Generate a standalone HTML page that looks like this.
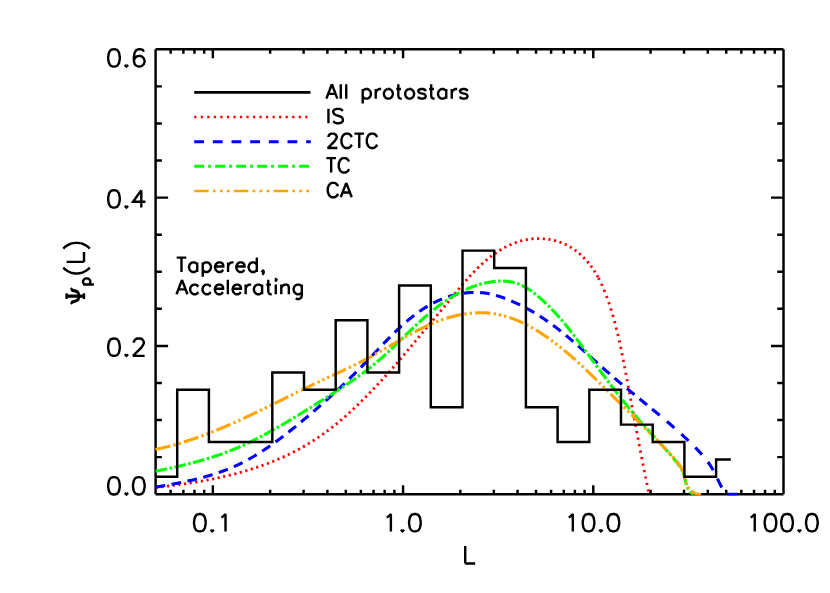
<!DOCTYPE html>
<html><head><meta charset="utf-8"><title>plot</title>
<style>html,body{margin:0;padding:0;background:#fff;font-family:"Liberation Sans",sans-serif}svg{display:block}</style></head>
<body>
<svg width="830" height="593" viewBox="0 0 830 593">
<rect width="830" height="593" fill="#fff"/>
<defs><clipPath id="cp"><rect x="154.4" y="48.1" width="630.3" height="447.3"/></clipPath></defs>
<g fill="none" stroke="#000" stroke-width="2.45" stroke-linecap="butt" stroke-linejoin="miter" stroke-miterlimit="10">
<path d="M155.6 494.2 H783.5 M155.6 49.3 H783.5 M155.6 494.2 V49.3 M783.5 494.2 V49.3"/>
<path d="M170.66 494.2 v-4.45 M170.66 49.3 v4.45 M183.4 494.2 v-4.45 M183.4 49.3 v4.45 M194.43 494.2 v-4.45 M194.43 49.3 v4.45 M204.16 494.2 v-4.45 M204.16 49.3 v4.45 M212.86 494.2 v-8.9 M212.86 49.3 v8.9 M270.12 494.2 v-4.45 M270.12 49.3 v4.45 M303.61 494.2 v-4.45 M303.61 49.3 v4.45 M327.38 494.2 v-4.45 M327.38 49.3 v4.45 M345.81 494.2 v-4.45 M345.81 49.3 v4.45 M360.87 494.2 v-4.45 M360.87 49.3 v4.45 M373.61 494.2 v-4.45 M373.61 49.3 v4.45 M384.64 494.2 v-4.45 M384.64 49.3 v4.45 M394.37 494.2 v-4.45 M394.37 49.3 v4.45 M403.07 494.2 v-8.9 M403.07 49.3 v8.9 M460.33 494.2 v-4.45 M460.33 49.3 v4.45 M493.83 494.2 v-4.45 M493.83 49.3 v4.45 M517.59 494.2 v-4.45 M517.59 49.3 v4.45 M536.03 494.2 v-4.45 M536.03 49.3 v4.45 M551.09 494.2 v-4.45 M551.09 49.3 v4.45 M563.82 494.2 v-4.45 M563.82 49.3 v4.45 M574.85 494.2 v-4.45 M574.85 49.3 v4.45 M584.58 494.2 v-4.45 M584.58 49.3 v4.45 M593.29 494.2 v-8.9 M593.29 49.3 v8.9 M650.55 494.2 v-4.45 M650.55 49.3 v4.45 M684.04 494.2 v-4.45 M684.04 49.3 v4.45 M707.81 494.2 v-4.45 M707.81 49.3 v4.45 M726.24 494.2 v-4.45 M726.24 49.3 v4.45 M741.3 494.2 v-4.45 M741.3 49.3 v4.45 M754.04 494.2 v-4.45 M754.04 49.3 v4.45 M765.07 494.2 v-4.45 M765.07 49.3 v4.45 M774.8 494.2 v-4.45 M774.8 49.3 v4.45 M155.6 457.12 h6.25 M783.5 457.12 h-6.25 M155.6 420.05 h6.25 M783.5 420.05 h-6.25 M155.6 382.97 h6.25 M783.5 382.97 h-6.25 M155.6 345.9 h12.5 M783.5 345.9 h-12.5 M155.6 308.82 h6.25 M783.5 308.82 h-6.25 M155.6 271.75 h6.25 M783.5 271.75 h-6.25 M155.6 234.68 h6.25 M783.5 234.68 h-6.25 M155.6 197.6 h12.5 M783.5 197.6 h-12.5 M155.6 160.53 h6.25 M783.5 160.53 h-6.25 M155.6 123.45 h6.25 M783.5 123.45 h-6.25 M155.6 86.38 h6.25 M783.5 86.38 h-6.25"/>
</g>
<g fill="none" stroke-width="3.1" stroke-linecap="butt" stroke-linejoin="round" clip-path="url(#cp)">
<path d="M155.66 487.51 L156.75 487.39 L157.83 487.27 L158.92 487.15 L160.01 487.03 L161.1 486.91 L162.19 486.78 L163.28 486.66 L164.37 486.53 L165.46 486.4 L166.55 486.27 L167.64 486.14 L168.73 486 L169.82 485.87 L170.91 485.73 L172.01 485.59 L173.1 485.45 L174.19 485.31 L175.29 485.17 L176.38 485.02 L177.47 484.87 L178.57 484.72 L179.66 484.57 L180.75 484.42 L181.85 484.27 L182.94 484.11 L184.04 483.95 L185.13 483.79 L186.23 483.63 L187.32 483.46 L188.41 483.3 L189.51 483.13 L190.6 482.96 L191.7 482.78 L192.79 482.61 L193.88 482.43 L194.98 482.25 L196.07 482.07 L197.16 481.89 L198.26 481.7 L199.35 481.51 L200.44 481.32 L201.53 481.13 L202.62 480.93 L203.72 480.74 L204.81 480.54 L205.9 480.33 L206.99 480.13 L208.08 479.92 L209.17 479.71 L210.26 479.5 L211.34 479.28 L212.43 479.06 L213.52 478.84 L214.61 478.62 L215.69 478.39 L216.78 478.16 L217.86 477.93 L218.95 477.7 L220.03 477.46 L221.12 477.22 L222.2 476.98 L223.28 476.73 L224.36 476.48 L225.44 476.23 L226.52 475.98 L227.6 475.72 L228.68 475.46 L229.75 475.19 L230.83 474.93 L231.91 474.66 L232.98 474.39 L234.05 474.11 L235.13 473.83 L236.2 473.55 L237.27 473.26 L238.34 472.97 L239.41 472.68 L240.47 472.39 L241.54 472.09 L242.6 471.78 L243.67 471.48 L244.73 471.17 L245.79 470.86 L246.85 470.54 L247.91 470.22 L248.97 469.9 L250.03 469.57 L251.08 469.24 L252.14 468.91 L253.19 468.57 L254.24 468.23 L255.29 467.89 L256.34 467.54 L257.39 467.19 L258.43 466.83 L259.48 466.47 L260.52 466.11 L261.56 465.74 L262.6 465.37 L263.64 464.99 L264.68 464.61 L265.71 464.23 L266.75 463.85 L267.78 463.45 L268.81 463.06 L269.84 462.66 L270.87 462.26 L271.89 461.85 L272.92 461.44 L273.94 461.03 L274.96 460.61 L275.98 460.18 L276.99 459.75 L278.01 459.32 L279.02 458.89 L280.03 458.45 L281.04 458 L282.05 457.55 L283.06 457.1 L284.06 456.64 L285.06 456.18 L286.06 455.71 L287.06 455.24 L288.05 454.76 L289.05 454.28 L290.04 453.8 L291.03 453.31 L292.01 452.81 L293 452.31 L293.98 451.81 L294.96 451.3 L295.94 450.79 L296.92 450.27 L297.89 449.75 L298.86 449.22 L299.83 448.69 L300.8 448.15 L301.76 447.61 L302.72 447.06 L303.68 446.51 L304.64 445.96 L305.6 445.39 L306.55 444.83 L307.5 444.26 L308.45 443.68 L309.39 443.1 L310.34 442.52 L311.28 441.93 L312.21 441.34 L313.15 440.74 L314.08 440.14 L315.01 439.54 L315.94 438.93 L316.86 438.31 L317.79 437.7 L318.71 437.07 L319.62 436.45 L320.54 435.82 L321.45 435.18 L322.36 434.55 L323.26 433.9 L324.17 433.26 L325.07 432.61 L325.97 431.95 L326.86 431.3 L327.75 430.64 L328.64 429.97 L329.53 429.3 L330.41 428.63 L331.3 427.96 L332.17 427.28 L333.05 426.6 L333.92 425.91 L334.79 425.22 L335.66 424.53 L336.52 423.83 L337.38 423.14 L338.24 422.43 L339.09 421.73 L339.94 421.02 L340.79 420.31 L341.64 419.59 L342.48 418.88 L343.32 418.16 L344.15 417.43 L344.99 416.71 L345.82 415.98 L346.64 415.25 L347.47 414.51 L348.29 413.78 L349.1 413.04 L349.92 412.29 L350.73 411.55 L351.54 410.8 L352.34 410.05 L353.14 409.3 L353.94 408.54 L354.74 407.79 L355.53 407.03 L356.32 406.27 L357.11 405.5 L357.9 404.74 L358.69 403.97 L359.48 403.2 L360.26 402.42 L361.04 401.65 L361.82 400.87 L362.6 400.09 L363.39 399.31 L364.16 398.53 L364.94 397.75 L365.72 396.96 L366.5 396.17 L367.27 395.38 L368.05 394.59 L368.82 393.8 L369.59 393 L370.37 392.21 L371.14 391.41 L371.91 390.61 L372.67 389.81 L373.44 389.01 L374.21 388.2 L374.97 387.4 L375.73 386.59 L376.5 385.79 L377.26 384.98 L378.01 384.17 L378.77 383.36 L379.53 382.55 L380.28 381.73 L381.04 380.92 L381.79 380.11 L382.54 379.29 L383.29 378.47 L384.03 377.66 L384.78 376.84 L385.52 376.02 L386.26 375.2 L387 374.38 L387.74 373.56 L388.48 372.74 L389.21 371.92 L389.95 371.1 L390.68 370.27 L391.4 369.45 L392.13 368.63 L392.86 367.8 L393.58 366.98 L394.3 366.15 L395.02 365.33 L395.74 364.5 L396.45 363.68 L397.17 362.85 L397.88 362.03 L398.59 361.2 L399.3 360.37 L400.01 359.55 L400.72 358.72 L401.42 357.89 L402.13 357.06 L402.83 356.23 L403.54 355.4 L404.24 354.57 L404.94 353.74 L405.64 352.91 L406.34 352.08 L407.04 351.25 L407.74 350.42 L408.43 349.58 L409.13 348.75 L409.83 347.91 L410.53 347.08 L411.22 346.24 L411.92 345.41 L412.62 344.57 L413.31 343.73 L414.01 342.9 L414.71 342.06 L415.4 341.22 L416.1 340.38 L416.8 339.54 L417.5 338.7 L418.19 337.86 L418.89 337.01 L419.59 336.17 L420.29 335.33 L420.99 334.48 L421.69 333.64 L422.4 332.79 L423.1 331.94 L423.8 331.1 L424.51 330.25 L425.22 329.4 L425.92 328.55 L426.63 327.7 L427.34 326.85 L428.06 326 L428.77 325.14 L429.48 324.29 L430.2 323.43 L430.92 322.58 L431.64 321.72 L432.36 320.86 L433.08 320.01 L433.81 319.15 L434.53 318.29 L435.26 317.43 L435.99 316.56 L436.71 315.7 L437.44 314.84 L438.17 313.97 L438.9 313.11 L439.63 312.24 L440.35 311.37 L441.08 310.5 L441.81 309.63 L442.53 308.76 L443.26 307.89 L443.98 307.02 L444.71 306.15 L445.43 305.27 L446.15 304.4 L446.87 303.52 L447.59 302.64 L448.31 301.76 L449.02 300.89 L449.74 300.01 L450.46 299.13 L451.17 298.25 L451.89 297.38 L452.6 296.5 L453.32 295.62 L454.03 294.75 L454.75 293.87 L455.47 293 L456.18 292.13 L456.9 291.26 L457.62 290.39 L458.34 289.52 L459.06 288.65 L459.78 287.79 L460.5 286.93 L461.23 286.07 L461.95 285.21 L462.68 284.35 L463.41 283.5 L464.14 282.65 L464.87 281.81 L465.6 280.96 L466.34 280.12 L467.08 279.28 L467.82 278.45 L468.56 277.62 L469.31 276.8 L470.06 275.97 L470.81 275.16 L471.57 274.34 L472.33 273.53 L473.09 272.73 L473.86 271.93 L474.62 271.13 L475.4 270.34 L476.17 269.56 L476.95 268.78 L477.74 268.01 L478.53 267.24 L479.32 266.47 L480.11 265.72 L480.92 264.97 L481.72 264.22 L482.53 263.48 L483.35 262.75 L484.17 262.03 L484.99 261.31 L485.83 260.6 L486.66 259.89 L487.5 259.19 L488.35 258.5 L489.2 257.82 L490.06 257.15 L490.93 256.48 L491.8 255.82 L492.67 255.17 L493.56 254.53 L494.45 253.89 L495.34 253.27 L496.25 252.65 L497.16 252.04 L498.07 251.44 L498.99 250.85 L499.92 250.27 L500.85 249.71 L501.8 249.15 L502.74 248.6 L503.69 248.07 L504.65 247.54 L505.62 247.03 L506.59 246.53 L507.57 246.04 L508.55 245.56 L509.54 245.1 L510.53 244.65 L511.53 244.22 L512.54 243.8 L513.55 243.39 L514.56 243 L515.59 242.62 L516.61 242.25 L517.65 241.91 L518.69 241.58 L519.73 241.26 L520.78 240.96 L521.83 240.68 L522.89 240.41 L523.96 240.16 L525.03 239.93 L526.1 239.71 L527.18 239.52 L528.27 239.34 L529.36 239.18 L530.45 239.04 L531.55 238.92 L532.65 238.82 L533.76 238.73 L534.87 238.67 L535.98 238.62 L537.09 238.59 L538.2 238.58 L539.32 238.59 L540.43 238.61 L541.55 238.66 L542.66 238.72 L543.77 238.81 L544.88 238.91 L545.99 239.03 L547.1 239.16 L548.2 239.32 L549.3 239.49 L550.4 239.69 L551.49 239.9 L552.58 240.13 L553.66 240.37 L554.73 240.64 L555.8 240.92 L556.87 241.23 L557.92 241.55 L558.97 241.89 L560.01 242.24 L561.04 242.62 L562.06 243.01 L563.07 243.42 L564.08 243.85 L565.07 244.3 L566.05 244.77 L567.03 245.25 L567.99 245.75 L568.94 246.27 L569.88 246.8 L570.81 247.35 L571.73 247.92 L572.64 248.5 L573.54 249.1 L574.43 249.71 L575.31 250.34 L576.18 250.98 L577.04 251.64 L577.89 252.31 L578.73 253 L579.56 253.7 L580.37 254.41 L581.18 255.14 L581.98 255.88 L582.76 256.63 L583.54 257.4 L584.3 258.18 L585.05 258.97 L585.8 259.77 L586.53 260.58 L587.25 261.41 L587.96 262.24 L588.66 263.09 L589.35 263.94 L590.03 264.81 L590.7 265.69 L591.35 266.57 L592 267.47 L592.64 268.38 L593.26 269.29 L593.87 270.21 L594.48 271.15 L595.07 272.09 L595.65 273.03 L596.22 273.99 L596.78 274.95 L597.34 275.92 L597.88 276.9 L598.41 277.88" stroke="#ff0000" stroke-width="2.8" stroke-dasharray="2.2 3.5"/>
<path d="M598.41 277.88 L598.93 278.87 L599.45 279.87 L599.95 280.87 L600.45 281.88 L600.94 282.89 L601.42 283.91 L601.89 284.93 L602.36 285.96 L602.81 286.99 L603.26 288.03 L603.7 289.07 L604.14 290.11 L604.57 291.16 L604.99 292.21 L605.4 293.26 L605.81 294.31 L606.21 295.37 L606.61 296.43 L607 297.49 L607.38 298.55 L607.76 299.62 L608.13 300.68 L608.5 301.75 L608.86 302.81 L609.22 303.88 L609.58 304.95 L609.93 306.01 L610.27 307.08 L610.62 308.15 L610.95 309.21 L611.29 310.28 L611.61 311.35 L611.94 312.41 L612.26 313.48 L612.58 314.55 L612.89 315.62 L613.2 316.69 L613.5 317.76 L613.8 318.82 L614.1 319.89 L614.4 320.96 L614.69 322.03 L614.98 323.1 L615.26 324.17 L615.54 325.24 L615.82 326.31 L616.09 327.38 L616.36 328.45 L616.63 329.52 L616.9 330.6 L617.16 331.67 L617.42 332.74 L617.68 333.81 L617.93 334.88 L618.18 335.96 L618.43 337.03 L618.68 338.1 L618.92 339.17 L619.17 340.25 L619.41 341.32 L619.64 342.39 L619.88 343.47 L620.11 344.54 L620.35 345.62 L620.58 346.69 L620.8 347.77 L621.03 348.84 L621.25 349.92 L621.48 350.99 L621.7 352.07 L621.92 353.14 L622.14 354.22 L622.35 355.3 L622.57 356.38 L622.78 357.45 L622.99 358.53 L623.21 359.61 L623.42 360.69 L623.63 361.76 L623.84 362.84 L624.05 363.92 L624.25 365 L624.46 366.08 L624.67 367.16 L624.87 368.24 L625.08 369.32 L625.28 370.4 L625.49 371.48 L625.69 372.56 L625.89 373.65 L626.1 374.73 L626.3 375.81 L626.5 376.89 L626.71 377.98 L626.91 379.06 L627.11 380.14 L627.32 381.23 L627.52 382.31 L627.72 383.39 L627.92 384.48 L628.13 385.56 L628.33 386.65 L628.53 387.73 L628.73 388.82 L628.94 389.9 L629.14 390.99 L629.34 392.07 L629.54 393.16 L629.74 394.25 L629.95 395.33 L630.15 396.42 L630.35 397.51 L630.55 398.59 L630.76 399.68 L630.96 400.77 L631.16 401.86 L631.36 402.94 L631.56 404.03 L631.77 405.12 L631.97 406.21 L632.17 407.29 L632.37 408.38 L632.58 409.47 L632.78 410.56 L632.98 411.65 L633.18 412.74 L633.39 413.83 L633.59 414.91 L633.79 416 L634 417.09 L634.2 418.18 L634.4 419.27 L634.61 420.36 L634.81 421.45 L635.01 422.54 L635.22 423.63 L635.42 424.71 L635.63 425.8 L635.83 426.89 L636.04 427.98 L636.24 429.07 L636.45 430.16 L636.65 431.25 L636.86 432.34 L637.06 433.43 L637.27 434.51 L637.47 435.6 L637.68 436.69 L637.89 437.78 L638.09 438.87 L638.3 439.96 L638.51 441.05 L638.72 442.14 L638.92 443.22 L639.13 444.31 L639.34 445.4 L639.55 446.49 L639.76 447.58 L639.97 448.66 L640.18 449.75 L640.39 450.84 L640.6 451.93 L640.81 453.01 L641.02 454.1 L641.23 455.19 L641.44 456.27 L641.65 457.36 L641.87 458.45 L642.08 459.53 L642.29 460.62 L642.51 461.7 L642.72 462.79 L642.93 463.88 L643.15 464.96 L643.36 466.05 L643.58 467.13 L643.79 468.21 L644.01 469.3 L644.23 470.38 L644.44 471.47 L644.66 472.55 L644.88 473.63 L645.1 474.72 L645.32 475.8 L645.54 476.88 L645.76 477.96 L645.98 479.04 L646.2 480.13 L646.42 481.21 L646.64 482.29 L646.86 483.37 L647.09 484.45 L647.31 485.53 L647.54 486.61 L647.76 487.69 L647.99 488.77 L648.21 489.84 L648.44 490.92 L648.66 492 L648.89 493.08 L649.12 494.15" stroke="#ff0000" stroke-width="2.8" stroke-dasharray="2.2 4.4"/>
<path d="M155.62 487.14 L156.62 486.97 L157.61 486.8 L158.61 486.63 L159.61 486.46 L160.61 486.29 L161.6 486.11 L162.61 485.94 L163.61 485.76 L164.61 485.59 L165.61 485.41 L166.61 485.23 L167.62 485.05 L168.62 484.87 L169.63 484.69 L170.63 484.5 L171.64 484.32 L172.64 484.13 L173.65 483.94 L174.66 483.75 L175.66 483.55 L176.67 483.36 L177.68 483.16 L178.68 482.96 L179.69 482.76 L180.7 482.56 L181.7 482.36 L182.71 482.15 L183.72 481.94 L184.72 481.73 L185.73 481.51 L186.74 481.29 L187.74 481.08 L188.75 480.85 L189.75 480.63 L190.75 480.4 L191.76 480.17 L192.76 479.94 L193.76 479.7 L194.76 479.46 L195.76 479.22 L196.76 478.97 L197.76 478.73 L198.76 478.47 L199.76 478.22 L200.75 477.96 L201.75 477.7 L202.74 477.44 L203.74 477.17 L204.73 476.89 L205.72 476.62 L206.71 476.34 L207.7 476.06 L208.68 475.77 L209.67 475.48 L210.65 475.18 L211.63 474.88 L212.61 474.58 L213.59 474.27 L214.57 473.96 L215.54 473.65 L216.52 473.33 L217.49 473 L218.46 472.67 L219.43 472.34 L220.4 472 L221.36 471.66 L222.32 471.31 L223.28 470.96 L224.24 470.6 L225.2 470.24 L226.15 469.88 L227.1 469.5 L228.05 469.13 L229 468.75 L229.94 468.36 L230.88 467.97 L231.82 467.57 L232.76 467.17 L233.69 466.76 L234.62 466.34 L235.55 465.92 L236.48 465.5 L237.4 465.07 L238.32 464.64 L239.24 464.19 L240.16 463.75 L241.07 463.3 L241.98 462.84 L242.89 462.38 L243.8 461.92 L244.7 461.45 L245.6 460.97 L246.5 460.49 L247.4 460.01 L248.29 459.52 L249.18 459.02 L250.07 458.52 L250.96 458.02 L251.84 457.51 L252.72 457 L253.6 456.49 L254.48 455.97 L255.36 455.44 L256.23 454.92 L257.1 454.38 L257.97 453.85 L258.84 453.31 L259.71 452.77 L260.57 452.22 L261.43 451.67 L262.29 451.11 L263.15 450.56 L264 449.99 L264.86 449.43 L265.71 448.86 L266.56 448.29 L267.41 447.72 L268.25 447.14 L269.1 446.56 L269.94 445.97 L270.78 445.39 L271.62 444.8 L272.45 444.2 L273.29 443.61 L274.12 443.01 L274.96 442.41 L275.79 441.8 L276.61 441.2 L277.44 440.59 L278.27 439.98 L279.09 439.37 L279.91 438.75 L280.74 438.13 L281.55 437.51 L282.37 436.89 L283.19 436.27 L284 435.64 L284.82 435.01 L285.63 434.38 L286.44 433.75 L287.25 433.12 L288.06 432.48 L288.87 431.85 L289.67 431.21 L290.48 430.57 L291.28 429.93 L292.08 429.28 L292.89 428.64 L293.69 428 L294.48 427.35 L295.28 426.7 L296.08 426.05 L296.87 425.41 L297.67 424.75 L298.46 424.1 L299.26 423.45 L300.05 422.8 L300.84 422.15 L301.63 421.49 L302.42 420.84 L303.2 420.18 L303.99 419.53 L304.78 418.87 L305.56 418.21 L306.35 417.55 L307.13 416.9 L307.91 416.24 L308.69 415.58 L309.47 414.91 L310.25 414.25 L311.03 413.59 L311.81 412.93 L312.58 412.26 L313.36 411.6 L314.14 410.93 L314.91 410.26 L315.68 409.6 L316.45 408.93 L317.22 408.26 L318 407.59 L318.76 406.92 L319.53 406.25 L320.3 405.58 L321.07 404.9 L321.83 404.23 L322.6 403.55 L323.36 402.88 L324.12 402.2 L324.88 401.52 L325.65 400.84 L326.41 400.17 L327.17 399.48 L327.92 398.8 L328.68 398.12 L329.44 397.44 L330.19 396.75 L330.95 396.07 L331.7 395.38 L332.45 394.7 L333.21 394.01 L333.96 393.32 L334.71 392.63 L335.46 391.94 L336.21 391.25 L336.95 390.55 L337.7 389.86 L338.45 389.16 L339.19 388.47 L339.93 387.77 L340.68 387.07 L341.42 386.37 L342.16 385.67 L342.9 384.97 L343.64 384.27 L344.38 383.57 L345.12 382.86 L345.86 382.16 L346.59 381.45 L347.33 380.74 L348.06 380.04 L348.8 379.33 L349.53 378.61 L350.26 377.9 L350.99 377.19 L351.72 376.47 L352.45 375.76 L353.18 375.04 L353.91 374.32 L354.63 373.61 L355.36 372.89 L356.08 372.16 L356.81 371.44 L357.53 370.72 L358.25 369.99 L358.98 369.27 L359.7 368.54 L360.42 367.81 L361.14 367.08 L361.85 366.35 L362.57 365.62 L363.29 364.88 L364 364.15 L364.72 363.41 L365.43 362.68 L366.15 361.94 L366.86 361.2 L367.57 360.46 L368.28 359.71 L368.99 358.97 L369.7 358.23 L370.41 357.48 L371.12 356.73 L371.83 355.99 L372.54 355.24 L373.24 354.49 L373.95 353.74 L374.66 353 L375.37 352.25 L376.08 351.5 L376.78 350.75 L377.49 350 L378.2 349.25 L378.91 348.5 L379.62 347.76 L380.33 347.01 L381.04 346.26 L381.75 345.51 L382.46 344.77 L383.18 344.02 L383.89 343.28 L384.6 342.54 L385.32 341.8 L386.04 341.06 L386.75 340.32 L387.47 339.58 L388.19 338.84 L388.92 338.11 L389.64 337.38 L390.37 336.65 L391.09 335.92 L391.82 335.19 L392.55 334.47 L393.28 333.74 L394.02 333.02 L394.75 332.31 L395.49 331.59 L396.23 330.88 L396.97 330.17 L397.72 329.46 L398.47 328.76 L399.22 328.06 L399.97 327.36 L400.72 326.66 L401.48 325.97 L402.24 325.28 L403 324.6 L403.77 323.92 L404.54 323.24 L405.31 322.57 L406.08 321.9 L406.86 321.23 L407.64 320.57 L408.42 319.92 L409.2 319.27 L409.99 318.62 L410.78 317.98 L411.58 317.34 L412.38 316.71 L413.18 316.08 L413.98 315.46 L414.79 314.85 L415.6 314.23 L416.42 313.63 L417.24 313.03 L418.06 312.44 L418.88 311.85 L419.71 311.27 L420.55 310.7 L421.38 310.13 L422.22 309.57 L423.07 309.01 L423.91 308.47 L424.77 307.93 L425.62 307.39 L426.48 306.87 L427.35 306.35 L428.22 305.84 L429.09 305.33 L429.96 304.83 L430.84 304.35 L431.73 303.86 L432.62 303.39 L433.51 302.93 L434.41 302.47 L435.31 302.02 L436.22 301.58 L437.13 301.15 L438.05 300.73 L438.97 300.32 L439.9 299.91 L440.83 299.52 L441.76 299.13 L442.7 298.75 L443.65 298.39 L444.6 298.03 L445.55 297.68 L446.51 297.34 L447.48 297.02 L448.45 296.7 L449.42 296.39 L450.4 296.09 L451.38 295.81 L452.37 295.53 L453.36 295.27 L454.35 295.01 L455.34 294.77 L456.34 294.54 L457.34 294.32 L458.35 294.11 L459.35 293.91 L460.36 293.72 L461.37 293.54 L462.39 293.38 L463.4 293.23 L464.42 293.09 L465.44 292.96 L466.46 292.85 L467.48 292.75 L468.5 292.66 L469.52 292.58 L470.55 292.52 L471.57 292.46 L472.6 292.43 L473.62 292.4 L474.64 292.39 L475.67 292.39 L476.69 292.41 L477.71 292.44 L478.74 292.48 L479.76 292.53 L480.78 292.61 L481.8 292.69 L482.81 292.79 L483.83 292.9 L484.84 293.03 L485.86 293.17 L486.87 293.33 L487.87 293.5 L488.88 293.69 L489.88 293.88 L490.88 294.09 L491.88 294.32 L492.88 294.56 L493.88 294.8 L494.87 295.06 L495.86 295.34 L496.85 295.62 L497.84 295.91 L498.82 296.22 L499.8 296.53 L500.78 296.85 L501.76 297.19 L502.73 297.53 L503.7 297.88 L504.67 298.24 L505.64 298.61 L506.61 298.99 L507.57 299.37 L508.53 299.76 L509.48 300.16 L510.44 300.56 L511.39 300.97 L512.34 301.39 L513.29 301.81 L514.23 302.24 L515.17 302.67 L516.11 303.11 L517.05 303.55 L517.98 304 L518.91 304.45 L519.84 304.9 L520.77 305.36 L521.69 305.82 L522.61 306.28 L523.52 306.75 L524.44 307.23 L525.35 307.71 L526.26 308.19 L527.16 308.67 L528.06 309.16 L528.96 309.66 L529.86 310.16 L530.75 310.66 L531.64 311.17 L532.53 311.68 L533.41 312.2 L534.29 312.72 L535.17 313.24 L536.04 313.77 L536.91 314.3 L537.78 314.84 L538.64 315.38 L539.51 315.93 L540.36 316.48 L541.22 317.03 L542.07 317.59 L542.92 318.15 L543.77 318.72 L544.61 319.28 L545.45 319.86 L546.29 320.43 L547.13 321.01 L547.96 321.6 L548.79 322.19 L549.62 322.78 L550.45 323.37 L551.27 323.97 L552.09 324.57 L552.91 325.17 L553.73 325.78 L554.54 326.39 L555.35 327 L556.16 327.62 L556.97 328.24 L557.78 328.86 L558.58 329.49 L559.38 330.11 L560.18 330.74 L560.98 331.38 L561.78 332.01 L562.57 332.65 L563.36 333.29 L564.15 333.93 L564.94 334.57 L565.73 335.22 L566.52 335.87 L567.3 336.52 L568.09 337.17 L568.87 337.83 L569.65 338.49 L570.43 339.15 L571.21 339.81 L571.98 340.47 L572.76 341.13 L573.53 341.8 L574.31 342.47 L575.08 343.13 L575.85 343.8 L576.62 344.48 L577.39 345.15 L578.16 345.82 L578.93 346.5 L579.69 347.17 L580.46 347.85 L581.22 348.53 L581.99 349.21 L582.75 349.89 L583.52 350.57 L584.28 351.25 L585.04 351.94 L585.81 352.62 L586.57 353.3 L587.33 353.99 L588.09 354.67 L588.85 355.36 L589.62 356.04 L590.38 356.73 L591.14 357.42 L591.9 358.1 L592.66 358.79 L593.42 359.47 L594.18 360.16 L594.95 360.85 L595.71 361.53 L596.47 362.22 L597.23 362.91 L597.99 363.59 L598.76 364.28 L599.52 364.96 L600.28 365.64 L601.05 366.33 L601.81 367.01 L602.58 367.69 L603.35 368.38 L604.11 369.06 L604.88 369.74 L605.65 370.41 L606.42 371.09 L607.19 371.77 L607.96 372.45 L608.73 373.12 L609.5 373.79 L610.28 374.47 L611.05 375.14 L611.83 375.81 L612.61 376.47 L613.39 377.14 L614.17 377.81 L614.95 378.47 L615.73 379.14 L616.51 379.8 L617.29 380.46 L618.08 381.12 L618.86 381.78 L619.65 382.44 L620.43 383.1 L621.22 383.75 L622.01 384.41 L622.79 385.07 L623.58 385.72 L624.37 386.37 L625.16 387.03 L625.95 387.68 L626.74 388.33 L627.53 388.98 L628.32 389.63 L629.11 390.28 L629.91 390.93 L630.7 391.58 L631.49 392.23 L632.29 392.88 L633.08 393.53 L633.87 394.17 L634.67 394.82 L635.46 395.47 L636.25 396.12 L637.05 396.76 L637.84 397.41 L638.64 398.05 L639.43 398.7 L640.22 399.35 L641.02 399.99 L641.81 400.64 L642.61 401.28 L643.4 401.93 L644.19 402.57 L644.99 403.22 L645.78 403.86 L646.57 404.51 L647.36 405.16 L648.16 405.8 L648.95 406.45 L649.74 407.1 L650.53 407.74 L651.32 408.39 L652.11 409.04" stroke="#0000ff" stroke-dasharray="9.7 6.506"/>
<path d="M652.11 409.04 L652.9 409.69 L653.69 410.34 L654.48 410.99 L655.27 411.64 L656.05 412.29 L656.84 412.94 L657.63 413.59 L658.41 414.24 L659.19 414.89 L659.98 415.55 L660.76 416.2 L661.54 416.86 L662.32 417.51 L663.1 418.17 L663.88 418.83 L664.66 419.48 L665.44 420.14 L666.22 420.8 L666.99 421.46 L667.76 422.13 L668.54 422.79 L669.31 423.45 L670.08 424.12 L670.85 424.79 L671.62 425.45 L672.39 426.12 L673.15 426.79 L673.92 427.47 L674.68 428.14 L675.44 428.81 L676.21 429.49 L676.97 430.17 L677.73 430.85 L678.49 431.53 L679.24 432.22 L680 432.9 L680.76 433.59 L681.51 434.28 L682.26 434.97 L683.02 435.67 L683.77 436.36 L684.52 437.06 L685.27 437.76 L686.02 438.47 L686.77 439.17 L687.51 439.88 L688.26 440.6 L689 441.31 L689.75 442.03 L690.49 442.75 L691.23 443.47 L691.98 444.2 L692.72 444.93 L693.46 445.66 L694.19 446.4 L694.93 447.14 L695.66 447.88 L696.39 448.63 L697.12 449.38 L697.84 450.13 L698.56 450.89 L699.27 451.65 L699.98 452.41 L700.68 453.18 L701.37 453.95 L702.06 454.73 L702.74 455.51 L703.41 456.3 L704.08 457.08 L704.73 457.88 L705.38 458.67 L706.01 459.48 L706.64 460.28 L707.26 461.09 L707.86 461.91 L708.46 462.73 L709.04 463.55 L709.61 464.38 L710.17 465.22 L710.71 466.05 L711.24 466.9 L711.75 467.75 L712.26 468.6 L712.75 469.46 L713.22 470.32 L713.69 471.19 L714.15 472.06 L714.6 472.94 L715.04 473.82 L715.48 474.7 L715.92 475.58 L716.35 476.47 L716.77 477.36 L717.2 478.25 L717.63 479.14 L718.06 480.04 L718.49 480.94 L718.92 481.83 L719.36 482.73 L719.8 483.63 L720.25 484.53 L720.71 485.43 L721.18 486.33 L721.65 487.23 L722.14 488.13 L722.65 489.03 L723.17 489.93 L723.72 490.82 L724.32 491.72 L724.97 492.61 L725.69 493.5 L726.48 494.2 L727.36 494.2 L737.5 494.2" stroke="#0000ff" stroke-dasharray="9.8 9.469"/>
<path d="M155.58 471.27 L156.57 471.06 L157.55 470.86 L158.54 470.65 L159.52 470.45 L160.51 470.24 L161.49 470.03 L162.47 469.82 L163.45 469.62 L164.43 469.41 L165.41 469.2 L166.39 468.98 L167.37 468.77 L168.35 468.56 L169.33 468.34 L170.31 468.13 L171.28 467.91 L172.26 467.7 L173.23 467.48 L174.21 467.26 L175.18 467.04 L176.15 466.81 L177.12 466.59 L178.09 466.37 L179.06 466.14 L180.03 465.91 L181 465.68 L181.97 465.45 L182.94 465.22 L183.9 464.98 L184.87 464.75 L185.84 464.51 L186.8 464.27 L187.76 464.03 L188.73 463.79 L189.69 463.55 L190.65 463.3 L191.61 463.05 L192.57 462.8 L193.53 462.55 L194.49 462.3 L195.44 462.04 L196.4 461.78 L197.36 461.52 L198.31 461.26 L199.26 460.99 L200.22 460.73 L201.17 460.46 L202.12 460.18 L203.07 459.91 L204.02 459.63 L204.97 459.36 L205.92 459.07 L206.87 458.79 L207.81 458.5 L208.76 458.21 L209.7 457.92 L210.65 457.63 L211.59 457.33 L212.53 457.03 L213.48 456.73 L214.42 456.42 L215.36 456.11 L216.29 455.8 L217.23 455.48 L218.17 455.17 L219.11 454.85 L220.04 454.52 L220.98 454.2 L221.91 453.86 L222.84 453.53 L223.77 453.19 L224.71 452.85 L225.63 452.51 L226.56 452.16 L227.49 451.81 L228.42 451.46 L229.35 451.1 L230.27 450.74 L231.2 450.38 L232.12 450.01 L233.04 449.64 L233.96 449.26 L234.88 448.88 L235.8 448.5 L236.72 448.12 L237.64 447.73 L238.56 447.33 L239.47 446.93 L240.39 446.53 L241.3 446.13 L242.22 445.72 L243.13 445.31 L244.04 444.9 L244.95 444.48 L245.86 444.06 L246.77 443.64 L247.67 443.21 L248.58 442.78 L249.48 442.35 L250.39 441.92 L251.29 441.48 L252.19 441.04 L253.09 440.6 L253.99 440.15 L254.89 439.7 L255.79 439.25 L256.69 438.8 L257.58 438.34 L258.48 437.88 L259.37 437.42 L260.27 436.96 L261.16 436.49 L262.05 436.03 L262.94 435.56 L263.83 435.08 L264.71 434.61 L265.6 434.13 L266.49 433.66 L267.37 433.18 L268.25 432.69 L269.14 432.21 L270.02 431.73 L270.9 431.24 L271.78 430.75 L272.65 430.26 L273.53 429.77 L274.41 429.27 L275.28 428.78 L276.15 428.28 L277.03 427.78 L277.9 427.29 L278.77 426.78 L279.64 426.28 L280.5 425.78 L281.37 425.28 L282.24 424.77 L283.1 424.27 L283.96 423.76 L284.83 423.25 L285.69 422.74 L286.55 422.23 L287.41 421.72 L288.26 421.21 L289.12 420.7 L289.97 420.19 L290.83 419.68 L291.68 419.16 L292.53 418.65 L293.38 418.13 L294.23 417.62 L295.08 417.1 L295.93 416.59 L296.77 416.07 L297.62 415.56 L298.46 415.04 L299.3 414.53 L300.15 414.01 L300.99 413.5 L301.82 412.98 L302.66 412.47 L303.5 411.95 L304.33 411.43 L305.17 410.92 L306 410.4 L306.83 409.89 L307.67 409.37 L308.5 408.85 L309.33 408.34 L310.16 407.82 L310.99 407.3 L311.82 406.78 L312.65 406.26 L313.47 405.75 L314.3 405.23 L315.13 404.71 L315.96 404.19 L316.78 403.67 L317.61 403.15 L318.44 402.62 L319.27 402.1 L320.09 401.58 L320.92 401.06 L321.75 400.53 L322.58 400.01 L323.4 399.48 L324.23 398.96 L325.06 398.43 L325.89 397.9 L326.72 397.37 L327.55 396.84 L328.38 396.31 L329.21 395.78 L330.04 395.25 L330.87 394.71 L331.71 394.18 L332.54 393.65 L333.38 393.11 L334.21 392.57 L335.05 392.03 L335.89 391.49 L336.73 390.95 L337.57 390.41 L338.41 389.87 L339.25 389.32 L340.09 388.77 L340.94 388.23 L341.78 387.68 L342.62 387.13 L343.46 386.58 L344.31 386.02 L345.15 385.47 L345.99 384.91 L346.83 384.36 L347.67 383.8 L348.51 383.24 L349.35 382.67 L350.19 382.11 L351.03 381.55 L351.86 380.98 L352.7 380.41 L353.53 379.84 L354.36 379.27 L355.19 378.69 L356.02 378.12 L356.84 377.54 L357.66 376.96 L358.48 376.38 L359.3 375.79 L360.12 375.21 L360.93 374.62 L361.74 374.03 L362.55 373.44 L363.35 372.85 L364.15 372.25 L364.95 371.65 L365.74 371.05 L366.53 370.45 L367.32 369.85 L368.1 369.24 L368.88 368.63 L369.65 368.02 L370.42 367.4 L371.19 366.79 L371.96 366.17 L372.72 365.55 L373.48 364.93 L374.23 364.3 L374.99 363.67 L375.74 363.04 L376.48 362.41 L377.23 361.77 L377.97 361.13 L378.71 360.49 L379.45 359.85 L380.19 359.2 L380.93 358.55 L381.66 357.9 L382.39 357.25 L383.13 356.59 L383.86 355.93 L384.58 355.26 L385.31 354.6 L386.04 353.93 L386.77 353.26 L387.49 352.58 L388.21 351.91 L388.94 351.23 L389.66 350.55 L390.38 349.87 L391.1 349.19 L391.83 348.5 L392.55 347.81 L393.27 347.12 L393.98 346.43 L394.7 345.74 L395.42 345.05 L396.14 344.35 L396.86 343.66 L397.58 342.96 L398.3 342.26 L399.01 341.56 L399.73 340.86 L400.45 340.16 L401.17 339.46 L401.89 338.76 L402.61 338.06 L403.33 337.36 L404.05 336.66 L404.77 335.96 L405.49 335.26 L406.21 334.55 L406.93 333.85 L407.65 333.15 L408.38 332.45 L409.1 331.75 L409.83 331.05 L410.55 330.36 L411.28 329.66 L412.01 328.96 L412.73 328.27 L413.46 327.57 L414.2 326.88 L414.93 326.19 L415.66 325.5 L416.4 324.81 L417.13 324.12 L417.87 323.44 L418.61 322.75 L419.35 322.07 L420.09 321.39 L420.84 320.72 L421.58 320.04 L422.33 319.37 L423.08 318.7 L423.83 318.03 L424.58 317.37 L425.34 316.7 L426.09 316.04 L426.85 315.39 L427.61 314.73 L428.38 314.08 L429.14 313.44 L429.91 312.79 L430.68 312.15 L431.46 311.52 L432.23 310.88 L433.01 310.25 L433.79 309.63 L434.57 309.01 L435.36 308.39 L436.15 307.77 L436.94 307.17 L437.73 306.56 L438.53 305.96 L439.33 305.36 L440.13 304.77 L440.93 304.19 L441.74 303.6 L442.55 303.03 L443.36 302.45 L444.17 301.89 L444.99 301.33 L445.81 300.77 L446.64 300.22 L447.46 299.67 L448.29 299.13 L449.13 298.6 L449.96 298.07 L450.8 297.55 L451.64 297.03 L452.48 296.52 L453.33 296.02 L454.18 295.52 L455.04 295.03 L455.89 294.54 L456.75 294.06 L457.62 293.59 L458.48 293.13 L459.35 292.67 L460.22 292.22 L461.1 291.78 L461.98 291.34 L462.86 290.91 L463.75 290.49 L464.64 290.07 L465.53 289.67 L466.43 289.27 L467.32 288.87 L468.23 288.49 L469.13 288.12 L470.04 287.75 L470.96 287.39 L471.87 287.04 L472.79 286.69 L473.72 286.36 L474.65 286.03 L475.58 285.72 L476.51 285.41 L477.45 285.11 L478.39 284.82 L479.34 284.54 L480.29 284.27 L481.24 284 L482.2 283.75 L483.16 283.51 L484.13 283.27 L485.09 283.05 L486.07 282.83 L487.04 282.63 L488.02 282.43 L489 282.25 L489.99 282.08 L490.98 281.92 L491.97 281.77 L492.96 281.63 L493.95 281.51 L494.94 281.4 L495.94 281.31 L496.93 281.23 L497.92 281.16 L498.92 281.11 L499.91 281.07 L500.9 281.06 L501.9 281.05 L502.89 281.06 L503.87 281.1 L504.86 281.14 L505.84 281.21 L506.83 281.29 L507.8 281.4 L508.78 281.52 L509.75 281.66 L510.72 281.82 L511.68 282 L512.64 282.2 L513.59 282.43 L514.54 282.67 L515.48 282.94 L516.42 283.23 L517.35 283.54 L518.27 283.87 L519.19 284.23 L520.1 284.61 L521 285 L521.9 285.42 L522.8 285.86 L523.68 286.31 L524.56 286.78 L525.44 287.27 L526.31 287.78 L527.17 288.3 L528.03 288.83 L528.88 289.38 L529.72 289.94 L530.56 290.52 L531.39 291.11 L532.22 291.7 L533.04 292.31 L533.86 292.93 L534.67 293.56 L535.48 294.19 L536.27 294.84 L537.07 295.49 L537.86 296.14 L538.64 296.81 L539.42 297.47 L540.19 298.14 L540.95 298.82 L541.71 299.5 L542.47 300.18 L543.22 300.86 L543.96 301.55 L544.7 302.23 L545.44 302.93 L546.17 303.62 L546.89 304.32 L547.62 305.02 L548.33 305.72 L549.04 306.42 L549.75 307.13 L550.45 307.84 L551.15 308.56 L551.84 309.27 L552.53 309.99 L553.22 310.71 L553.9 311.43 L554.58 312.15 L555.26 312.88 L555.93 313.61 L556.59 314.34 L557.26 315.08 L557.92 315.81 L558.57 316.55 L559.23 317.29 L559.88 318.03 L560.52 318.78 L561.17 319.52 L561.81 320.27 L562.44 321.02 L563.08 321.77 L563.71 322.53 L564.34 323.28 L564.97 324.04 L565.59 324.8 L566.22 325.56 L566.84 326.32 L567.45 327.09 L568.07 327.85 L568.68 328.62 L569.29 329.39 L569.9 330.16 L570.51 330.94 L571.12 331.71 L571.72 332.48 L572.32 333.26 L572.93 334.04 L573.53 334.82 L574.12 335.6 L574.72 336.38 L575.32 337.17 L575.91 337.95 L576.51 338.74 L577.1 339.52 L577.69 340.31 L578.29 341.1 L578.88 341.89 L579.47 342.68 L580.06 343.47 L580.65 344.27 L581.24 345.06 L581.83 345.86 L582.41 346.65 L583 347.45 L583.59 348.25 L584.18 349.05 L584.77 349.84 L585.36 350.64 L585.95 351.44 L586.54 352.24 L587.13 353.05 L587.72 353.85 L588.31 354.65 L588.9 355.45 L589.49 356.26 L590.08 357.06 L590.67 357.87 L591.26 358.67 L591.85 359.48 L592.44 360.28 L593.04 361.09 L593.63 361.89 L594.22 362.7 L594.81 363.51 L595.41 364.31 L596 365.12 L596.6 365.93 L597.19 366.73 L597.78 367.54 L598.38 368.35 L598.97 369.15 L599.57 369.96 L600.17 370.76 L600.76 371.57 L601.36 372.38 L601.96 373.18 L602.56 373.99 L603.15 374.79 L603.75 375.6 L604.35 376.4 L604.95 377.21 L605.55 378.01 L606.15 378.81 L606.75 379.62 L607.36 380.42 L607.96 381.22 L608.56 382.02 L609.17 382.82 L609.77 383.62 L610.37 384.42 L610.98 385.22 L611.59 386.01 L612.19 386.81 L612.8 387.61 L613.41 388.4 L614.02 389.2 L614.62 389.99 L615.23 390.78 L615.85 391.57 L616.46 392.36 L617.07 393.15 L617.68 393.94 L618.29 394.73 L618.91 395.51 L619.52 396.3 L620.14 397.08 L620.76 397.86 L621.37 398.64 L621.99 399.42 L622.61 400.2 L623.23 400.98 L623.85 401.75 L624.47 402.53 L625.09 403.3 L625.71 404.07 L626.34 404.84 L626.96 405.61 L627.59 406.38 L628.22 407.14 L628.84 407.9 L629.47 408.66 L630.1 409.42 L630.73 410.18 L631.36 410.94 L631.99 411.69 L632.63 412.45 L633.26 413.2 L633.9 413.95 L634.53 414.7 L635.17 415.45 L635.81 416.2 L636.45 416.94 L637.09 417.69 L637.73 418.43 L638.37 419.18 L639.02 419.92 L639.66 420.66 L640.31 421.4 L640.96 422.14 L641.61 422.88 L642.26 423.62 L642.91 424.36 L643.57 425.1 L644.22 425.83 L644.88 426.57 L645.54 427.31 L646.19 428.04 L646.86 428.78 L647.52 429.52 L648.18 430.25 L648.85 430.99 L649.51 431.72 L650.18 432.46 L650.85 433.19 L651.52 433.93 L652.2 434.66 L652.87 435.4 L653.55 436.14 L654.22 436.87 L654.9 437.61 L655.58 438.35 L656.27 439.09 L656.95 439.82 L657.63 440.56 L658.31 441.3 L659 442.04 L659.68 442.78 L660.37 443.52 L661.05 444.27 L661.73 445.01 L662.41 445.75 L663.1 446.5 L663.78 447.25 L664.46 447.99 L665.13 448.74 L665.81 449.49 L666.48 450.24 L667.16 450.99 L667.83 451.75 L668.49 452.5 L669.16 453.26 L669.82 454.02 L670.48 454.77 L671.14 455.54 L671.79 456.3 L672.44 457.06 L673.09 457.83 L673.73 458.6 L674.37 459.37 L675.01 460.14 L675.64 460.91 L676.26 461.69 L676.88 462.47 L677.48 463.25 L678.08 464.04 L678.66 464.83 L679.23 465.63 L679.77 466.43 L680.3 467.24 L680.81 468.06 L681.3 468.89 L681.76 469.72 L682.2 470.56 L682.61 471.42 L682.99 472.28 L683.34 473.15 L683.65 474.04 L683.94 474.94 L684.2 475.85 L684.44 476.77 L684.66 477.71 L684.88 478.66 L685.09 479.62 L685.3 480.6 L685.51 481.59 L685.74 482.59 L685.99 483.58 L686.26 484.56 L686.57 485.54 L686.91 486.49 L687.29 487.43 L687.71 488.34 L688.19 489.21 L688.73 490.05 L689.34 490.85 L690.01 491.59 L690.76 492.29 L691.6 492.93 L692.52 493.5 L693.53 494.01" stroke="#00ff00" stroke-dasharray="11.8 2.4 2.6 2.4"/>
<path d="M155.49 449.42 L156.41 449.22 L157.33 449.03 L158.25 448.82 L159.17 448.62 L160.09 448.41 L161 448.2 L161.92 447.99 L162.83 447.77 L163.75 447.56 L164.66 447.34 L165.57 447.11 L166.48 446.88 L167.39 446.66 L168.29 446.42 L169.2 446.19 L170.1 445.95 L171.01 445.71 L171.91 445.47 L172.81 445.22 L173.72 444.98 L174.62 444.73 L175.52 444.47 L176.41 444.22 L177.31 443.96 L178.21 443.7 L179.1 443.44 L180 443.17 L180.89 442.9 L181.78 442.63 L182.67 442.36 L183.56 442.09 L184.45 441.81 L185.34 441.53 L186.23 441.25 L187.12 440.97 L188 440.68 L188.89 440.39 L189.77 440.1 L190.66 439.81 L191.54 439.51 L192.42 439.21 L193.3 438.92 L194.18 438.61 L195.06 438.31 L195.94 438 L196.82 437.7 L197.69 437.39 L198.57 437.08 L199.45 436.76 L200.32 436.45 L201.19 436.13 L202.07 435.81 L202.94 435.49 L203.81 435.16 L204.68 434.84 L205.55 434.51 L206.42 434.18 L207.29 433.85 L208.16 433.52 L209.02 433.18 L209.89 432.85 L210.76 432.51 L211.62 432.17 L212.48 431.83 L213.35 431.49 L214.21 431.14 L215.07 430.79 L215.94 430.45 L216.8 430.1 L217.66 429.75 L218.52 429.39 L219.38 429.04 L220.23 428.68 L221.09 428.32 L221.95 427.97 L222.81 427.61 L223.66 427.24 L224.52 426.88 L225.37 426.52 L226.23 426.15 L227.08 425.78 L227.94 425.41 L228.79 425.04 L229.64 424.67 L230.49 424.3 L231.34 423.93 L232.2 423.55 L233.05 423.17 L233.9 422.8 L234.75 422.42 L235.6 422.04 L236.44 421.66 L237.29 421.27 L238.14 420.89 L238.99 420.51 L239.83 420.12 L240.68 419.73 L241.53 419.35 L242.37 418.96 L243.22 418.57 L244.06 418.18 L244.91 417.79 L245.75 417.39 L246.59 417 L247.44 416.61 L248.28 416.21 L249.12 415.81 L249.97 415.42 L250.81 415.02 L251.65 414.62 L252.49 414.22 L253.33 413.82 L254.17 413.42 L255.01 413.02 L255.85 412.62 L256.69 412.22 L257.53 411.81 L258.37 411.41 L259.21 411 L260.05 410.6 L260.89 410.19 L261.73 409.78 L262.56 409.38 L263.4 408.97 L264.24 408.56 L265.08 408.15 L265.92 407.74 L266.75 407.34 L267.59 406.93 L268.43 406.51 L269.26 406.1 L270.1 405.69 L270.94 405.28 L271.77 404.87 L272.61 404.46 L273.44 404.05 L274.28 403.63 L275.12 403.22 L275.95 402.81 L276.79 402.39 L277.62 401.98 L278.46 401.57 L279.29 401.15 L280.13 400.74 L280.96 400.33 L281.8 399.91 L282.64 399.5 L283.47 399.08 L284.31 398.67 L285.14 398.26 L285.98 397.84 L286.81 397.43 L287.65 397.01 L288.48 396.6 L289.32 396.18 L290.15 395.77 L290.99 395.36 L291.82 394.94 L292.66 394.53 L293.49 394.12 L294.33 393.7 L295.16 393.29 L296 392.88 L296.84 392.47 L297.67 392.06 L298.51 391.64 L299.34 391.23 L300.18 390.82 L301.02 390.41 L301.85 390 L302.69 389.59 L303.53 389.18 L304.36 388.77 L305.2 388.36 L306.04 387.96 L306.87 387.55 L307.71 387.14 L308.55 386.74 L309.39 386.33 L310.23 385.92 L311.07 385.52 L311.9 385.12 L312.74 384.71 L313.58 384.31 L314.42 383.91 L315.26 383.51 L316.1 383.11 L316.94 382.71 L317.78 382.31 L318.62 381.91 L319.46 381.51 L320.31 381.11 L321.15 380.72 L321.99 380.32 L322.83 379.93 L323.67 379.53 L324.52 379.14 L325.36 378.75 L326.2 378.35 L327.04 377.96 L327.89 377.57 L328.73 377.18 L329.57 376.78 L330.42 376.39 L331.26 376 L332.1 375.61 L332.95 375.22 L333.79 374.83 L334.63 374.43 L335.47 374.04 L336.32 373.65 L337.16 373.26 L338 372.87 L338.84 372.47 L339.69 372.08 L340.53 371.69 L341.37 371.29 L342.21 370.9 L343.05 370.5 L343.89 370.1 L344.73 369.71 L345.57 369.31 L346.41 368.91 L347.25 368.51 L348.09 368.11 L348.93 367.71 L349.77 367.31 L350.61 366.91 L351.44 366.5 L352.28 366.1 L353.12 365.69 L353.95 365.28 L354.79 364.88 L355.62 364.47 L356.45 364.05 L357.29 363.64 L358.12 363.23 L358.95 362.81 L359.78 362.39 L360.61 361.97 L361.44 361.55 L362.27 361.13 L363.1 360.71 L363.93 360.28 L364.75 359.85 L365.58 359.42 L366.41 358.99 L367.23 358.56 L368.05 358.12 L368.88 357.69 L369.7 357.25 L370.52 356.8 L371.34 356.36 L372.16 355.92 L372.97 355.47 L373.79 355.02 L374.61 354.57 L375.43 354.12 L376.24 353.67 L377.06 353.22 L377.87 352.76 L378.68 352.31 L379.5 351.85 L380.31 351.4 L381.12 350.94 L381.93 350.48 L382.75 350.02 L383.56 349.56 L384.37 349.1 L385.18 348.63 L385.99 348.17 L386.8 347.71 L387.6 347.25 L388.41 346.78 L389.22 346.32 L390.03 345.86 L390.84 345.39 L391.64 344.93 L392.45 344.46 L393.26 344 L394.06 343.54 L394.87 343.07 L395.68 342.61 L396.48 342.15 L397.29 341.68 L398.09 341.22 L398.9 340.76 L399.71 340.3 L400.51 339.84 L401.32 339.38 L402.12 338.92 L402.93 338.46 L403.74 338.01 L404.54 337.55 L405.35 337.1 L406.16 336.64 L406.97 336.19 L407.78 335.74 L408.58 335.29 L409.39 334.85 L410.2 334.4 L411.02 333.96 L411.83 333.52 L412.64 333.08 L413.45 332.64 L414.27 332.21 L415.09 331.78 L415.9 331.35 L416.72 330.92 L417.54 330.49 L418.36 330.07 L419.18 329.65 L420.01 329.24 L420.83 328.82 L421.66 328.41 L422.49 328.01 L423.32 327.6 L424.15 327.2 L424.98 326.81 L425.82 326.41 L426.65 326.02 L427.49 325.64 L428.33 325.25 L429.18 324.88 L430.02 324.5 L430.87 324.13 L431.72 323.77 L432.57 323.4 L433.42 323.05 L434.28 322.69 L435.14 322.34 L436 322 L436.86 321.66 L437.73 321.33 L438.6 321 L439.47 320.67 L440.35 320.35 L441.23 320.04 L442.11 319.73 L442.99 319.43 L443.88 319.13 L444.77 318.84 L445.66 318.55 L446.56 318.27 L447.46 317.99 L448.36 317.73 L449.26 317.46 L450.17 317.2 L451.08 316.95 L451.99 316.71 L452.91 316.47 L453.83 316.24 L454.74 316.01 L455.66 315.79 L456.59 315.58 L457.51 315.38 L458.44 315.18 L459.37 314.99 L460.29 314.8 L461.23 314.63 L462.16 314.46 L463.09 314.29 L464.02 314.14 L464.96 313.99 L465.89 313.85 L466.83 313.72 L467.77 313.6 L468.7 313.48 L469.64 313.37 L470.58 313.27 L471.52 313.18 L472.46 313.1 L473.4 313.02 L474.33 312.96 L475.27 312.9 L476.21 312.85 L477.15 312.81 L478.08 312.78 L479.02 312.76 L479.95 312.74 L480.89 312.74 L481.82 312.74 L482.75 312.76 L483.68 312.78 L484.61 312.81 L485.54 312.85 L486.47 312.91 L487.39 312.97 L488.32 313.04 L489.24 313.12 L490.16 313.21 L491.08 313.32 L491.99 313.43 L492.91 313.55 L493.82 313.68 L494.73 313.82 L495.63 313.97 L496.54 314.13 L497.44 314.3 L498.34 314.48 L499.24 314.67 L500.14 314.87 L501.03 315.07 L501.93 315.29 L502.82 315.51 L503.7 315.75 L504.59 315.99 L505.48 316.24 L506.36 316.5 L507.24 316.76 L508.11 317.04 L508.99 317.32 L509.86 317.61 L510.73 317.91 L511.6 318.21 L512.47 318.52 L513.33 318.85 L514.2 319.17 L515.06 319.51 L515.91 319.85 L516.77 320.2 L517.62 320.56 L518.48 320.92 L519.32 321.29 L520.17 321.67 L521.02 322.05 L521.86 322.44 L522.7 322.83 L523.54 323.23 L524.37 323.64 L525.2 324.06 L526.03 324.48 L526.86 324.9 L527.69 325.33 L528.51 325.77 L529.34 326.21 L530.15 326.66 L530.97 327.11 L531.79 327.57 L532.6 328.03 L533.41 328.5 L534.22 328.97 L535.02 329.44 L535.83 329.93 L536.63 330.41 L537.42 330.9 L538.22 331.4 L539.01 331.89 L539.8 332.4 L540.59 332.9 L541.38 333.41 L542.16 333.93 L542.95 334.44 L543.72 334.96 L544.5 335.49 L545.28 336.02 L546.05 336.55 L546.82 337.08 L547.58 337.62 L548.35 338.16 L549.11 338.7 L549.87 339.24 L550.63 339.79 L551.38 340.34 L552.13 340.89 L552.88 341.45 L553.63 342 L554.38 342.56 L555.12 343.13 L555.86 343.69 L556.6 344.26 L557.34 344.83 L558.07 345.4 L558.81 345.97 L559.54 346.55 L560.26 347.13 L560.99 347.71 L561.72 348.29 L562.44 348.87 L563.16 349.46 L563.88 350.05 L564.59 350.64 L565.31 351.23 L566.02 351.83 L566.73 352.43 L567.44 353.02 L568.15 353.62 L568.86 354.23 L569.56 354.83 L570.27 355.44 L570.97 356.05 L571.67 356.65 L572.37 357.27 L573.06 357.88 L573.76 358.49 L574.45 359.11 L575.14 359.73 L575.84 360.35 L576.53 360.97 L577.21 361.59 L577.9 362.21 L578.59 362.84 L579.27 363.47 L579.96 364.09 L580.64 364.72 L581.32 365.35 L582 365.99 L582.68 366.62 L583.36 367.25 L584.04 367.89 L584.71 368.53 L585.39 369.16 L586.06 369.8 L586.73 370.44 L587.41 371.09 L588.08 371.73 L588.75 372.37 L589.42 373.01 L590.09 373.66 L590.76 374.31 L591.43 374.95 L592.09 375.6 L592.76 376.25 L593.43 376.9 L594.09 377.55 L594.76 378.2 L595.42 378.85 L596.09 379.5 L596.75 380.16 L597.41 380.81 L598.08 381.46 L598.74 382.12 L599.4 382.77 L600.06 383.43 L600.73 384.09 L601.39 384.74 L602.05 385.4 L602.71 386.06 L603.37 386.71 L604.03 387.37 L604.69 388.03 L605.35 388.69 L606.01 389.35 L606.68 390.01 L607.34 390.67 L608 391.33 L608.66 391.99 L609.32 392.64 L609.98 393.3 L610.64 393.96 L611.3 394.62 L611.97 395.28 L612.63 395.94 L613.29 396.6 L613.95 397.26 L614.62 397.92 L615.28 398.58 L615.95 399.24 L616.61 399.9 L617.28 400.55 L617.94 401.21 L618.61 401.87 L619.27 402.53 L619.94 403.19 L620.6 403.84 L621.27 404.5 L621.93 405.16 L622.6 405.82 L623.27 406.47 L623.93 407.13 L624.6 407.79 L625.27 408.44 L625.93 409.1 L626.6 409.76 L627.27 410.41 L627.93 411.07 L628.6 411.73 L629.26 412.38 L629.93 413.04 L630.59 413.69 L631.26 414.35 L631.92 415.01 L632.59 415.66 L633.25 416.32 L633.92 416.97 L634.58 417.63 L635.24 418.28 L635.91 418.94 L636.57 419.59 L637.23 420.25 L637.89 420.9 L638.55 421.56 L639.21 422.21 L639.87 422.86 L640.53 423.52 L641.19 424.17 L641.85 424.83 L642.51 425.48 L643.16 426.14 L643.82 426.79 L644.48 427.44 L645.13 428.1 L645.78 428.75 L646.44 429.4 L647.09 430.06 L647.74 430.71 L648.39 431.37 L649.04 432.02 L649.69 432.67 L650.34 433.33 L650.98 433.98 L651.63 434.63 L652.27 435.29 L652.92 435.94 L653.56 436.59 L654.2 437.25 L654.84 437.9 L655.48 438.55 L656.12 439.21 L656.76 439.86 L657.39 440.52 L658.03 441.18 L658.67 441.83 L659.3 442.49 L659.94 443.15 L660.57 443.81 L661.21 444.48 L661.84 445.14 L662.48 445.81 L663.11 446.48 L663.74 447.15 L664.38 447.82 L665.01 448.5 L665.64 449.18 L666.28 449.86 L666.91 450.54 L667.55 451.23 L668.18 451.92 L668.82 452.61 L669.46 453.31 L670.09 454.01 L670.73 454.71 L671.37 455.42 L672.01 456.13 L672.65 456.84 L673.29 457.56 L673.93 458.28 L674.57 459.01 L675.22 459.74 L675.86 460.48 L676.5 461.22 L677.13 461.97 L677.75 462.72 L678.35 463.48 L678.94 464.25 L679.5 465.02 L680.03 465.8 L680.54 466.59 L681 467.38 L681.43 468.19 L681.82 469 L682.18 469.82 L682.52 470.65 L682.82 471.49 L683.11 472.34 L683.38 473.21 L683.63 474.08 L683.88 474.96 L684.11 475.85 L684.35 476.75 L684.58 477.65 L684.81 478.55 L685.04 479.45 L685.29 480.34 L685.54 481.23 L685.81 482.11 L686.09 482.98 L686.4 483.83 L686.72 484.67 L687.07 485.49 L687.45 486.29 L687.87 487.06 L688.31 487.81 L688.79 488.53 L689.32 489.22 L689.88 489.88 L690.5 490.5 L691.16 491.08 L691.87 491.63 L692.62 492.13 L693.42 492.58 L694.26 492.99 L695.14 493.35 L696.05 493.65 L697.01 493.9 L697.99 494.09 L699 494.2 L700.04 494.2 L701.11 494.2" stroke="#ffa500" stroke-dasharray="15.2 3.2 2.4 3 2.4 3.2 15.2 3.2 2.4 2.9 2.4 2.9 2.4 3.2"/>
</g>
<path d="M155.6 476.8 H177.2 V389.8 H208.9 V442 H240.6 V442 H272.3 V372.4 H304 V389.8 H335.7 V320.2 H367.4 V372.4 H399.1 V285.4 H430.8 V407.2 H462.5 V250.6 H494.2 V268 H525.9 V407.2 H557.6 V442 H589.3 V389.8 H621 V424.6 H652.7 V442 H684.4 V476.8 H716.1 V459.4 H730.8" fill="none" stroke="#000" stroke-width="2.45" stroke-linejoin="miter"/>
<g fill="none" stroke-linecap="butt">
<path d="M194.2 92.4 H310.5" stroke="#000" stroke-width="2.8"/>
<path d="M194.2 117 H310.8" stroke="#ff0000" stroke-width="2.65" stroke-dasharray="2.2 4.33"/>
<path d="M194.2 141.8 H310.8" stroke="#0000ff" stroke-width="3.0" stroke-dasharray="9.8 8.86"/>
<path d="M194.2 166.3 H310.8" stroke="#00ff00" stroke-width="3.0" stroke-dasharray="9.8 4.2 2.7 4.3"/>
<path d="M194.2 191 H310.8" stroke="#ffa500" stroke-width="2.55" stroke-dasharray="14.4 4.3 2.7 4.3 2.7 4.3 2.7 4.3"/>
</g>
<g fill="none" stroke="#000" stroke-linecap="butt" stroke-linejoin="miter" stroke-miterlimit="2.5">
<path transform="translate(325.7 98.65) translate(0 0)" d="M6.17 -14.39 L0.69 0 M6.17 -14.39 L11.65 0 M2.74 -4.79 L9.59 -4.79 M15.07 -14.39 L15.07 0 M20.55 -14.39 L20.55 0 M36.99 -9.59 L36.99 4.79 M36.99 -7.54 L38.36 -8.91 L39.73 -9.59 L41.79 -9.59 L43.16 -8.91 L44.52 -7.54 L45.21 -5.48 L45.21 -4.11 L44.52 -2.06 L43.16 -0.69 L41.79 0 L39.73 0 L38.36 -0.69 L36.99 -2.06 M50.01 -9.59 L50.01 0 M50.01 -5.48 L50.69 -7.54 L52.06 -8.91 L53.43 -9.59 L55.48 -9.59 M61.65 -9.59 L60.28 -8.91 L58.91 -7.54 L58.23 -5.48 L58.23 -4.11 L58.91 -2.06 L60.28 -0.69 L61.65 0 L63.7 0 L65.08 -0.69 L66.45 -2.06 L67.13 -4.11 L67.13 -5.48 L66.45 -7.54 L65.08 -8.91 L63.7 -9.59 L61.65 -9.59 M72.61 -14.39 L72.61 -2.74 L73.3 -0.69 L74.67 0 L76.03 0 M70.55 -9.59 L75.35 -9.59 M82.89 -9.59 L81.52 -8.91 L80.15 -7.54 L79.46 -5.48 L79.46 -4.11 L80.15 -2.06 L81.52 -0.69 L82.89 0 L84.94 0 L86.31 -0.69 L87.68 -2.06 L88.37 -4.11 L88.37 -5.48 L87.68 -7.54 L86.31 -8.91 L84.94 -9.59 L82.89 -9.59 M100.01 -7.54 L99.33 -8.91 L97.27 -9.59 L95.22 -9.59 L93.16 -8.91 L92.48 -7.54 L93.16 -6.17 L94.53 -5.48 L97.96 -4.79 L99.33 -4.11 L100.01 -2.74 L100.01 -2.06 L99.33 -0.69 L97.27 0 L95.22 0 L93.16 -0.69 L92.48 -2.06 M105.49 -14.39 L105.49 -2.74 L106.17 -0.69 L107.55 0 L108.91 0 M103.43 -9.59 L108.23 -9.59 M120.56 -9.59 L120.56 0 M120.56 -7.54 L119.19 -8.91 L117.82 -9.59 L115.77 -9.59 L114.39 -8.91 L113.03 -7.54 L112.34 -5.48 L112.34 -4.11 L113.03 -2.06 L114.39 -0.69 L115.77 0 L117.82 0 L119.19 -0.69 L120.56 -2.06 M126.04 -9.59 L126.04 0 M126.04 -5.48 L126.72 -7.54 L128.09 -8.91 L129.47 -9.59 L131.52 -9.59 M141.79 -7.54 L141.11 -8.91 L139.05 -9.59 L137 -9.59 L134.94 -8.91 L134.26 -7.54 L134.94 -6.17 L136.31 -5.48 L139.74 -4.79 L141.11 -4.11 L141.79 -2.74 L141.79 -2.06 L141.11 -0.69 L139.05 0 L137 0 L134.94 -0.69 L134.26 -2.06" stroke-width="2.4"/>
<path transform="translate(325.7 123.25) translate(0 0)" d="M2.74 -14.39 L2.74 0 M17.12 -12.33 L15.76 -13.7 L13.7 -14.39 L10.96 -14.39 L8.91 -13.7 L7.54 -12.33 L7.54 -10.96 L8.22 -9.59 L8.91 -8.91 L10.28 -8.22 L14.39 -6.85 L15.76 -6.17 L16.44 -5.48 L17.12 -4.11 L17.12 -2.06 L15.76 -0.69 L13.7 0 L10.96 0 L8.91 -0.69 L7.54 -2.06" stroke-width="2.4"/>
<path transform="translate(325.7 148.05) translate(0 0)" d="M2.74 -10.96 L2.74 -11.65 L3.43 -13.02 L4.11 -13.7 L5.48 -14.39 L8.22 -14.39 L9.59 -13.7 L10.28 -13.02 L10.96 -11.65 L10.96 -10.28 L10.28 -8.91 L8.91 -6.85 L2.06 0 L11.64 0 M26.03 -10.96 L25.34 -12.33 L23.98 -13.7 L22.61 -14.39 L19.87 -14.39 L18.5 -13.7 L17.12 -12.33 L16.44 -10.96 L15.76 -8.91 L15.76 -5.48 L16.44 -3.43 L17.12 -2.06 L18.5 -0.69 L19.87 0 L22.61 0 L23.98 -0.69 L25.34 -2.06 L26.03 -3.43 M33.56 -14.39 L33.56 0 M28.77 -14.39 L38.36 -14.39 M51.38 -10.96 L50.69 -12.33 L49.32 -13.7 L47.95 -14.39 L45.21 -14.39 L43.84 -13.7 L42.47 -12.33 L41.79 -10.96 L41.1 -8.91 L41.1 -5.48 L41.79 -3.43 L42.47 -2.06 L43.84 -0.69 L45.21 0 L47.95 0 L49.32 -0.69 L50.69 -2.06 L51.38 -3.43" stroke-width="2.4"/>
<path transform="translate(325.7 172.55) translate(0 0)" d="M5.48 -14.39 L5.48 0 M0.69 -14.39 L10.28 -14.39 M23.29 -10.96 L22.61 -12.33 L21.24 -13.7 L19.87 -14.39 L17.13 -14.39 L15.76 -13.7 L14.39 -12.33 L13.7 -10.96 L13.02 -8.91 L13.02 -5.48 L13.7 -3.43 L14.39 -2.06 L15.76 -0.69 L17.13 0 L19.87 0 L21.24 -0.69 L22.61 -2.06 L23.29 -3.43" stroke-width="2.4"/>
<path transform="translate(325.7 197.25) translate(0 0)" d="M12.33 -10.96 L11.64 -12.33 L10.28 -13.7 L8.91 -14.39 L6.17 -14.39 L4.79 -13.7 L3.43 -12.33 L2.74 -10.96 L2.06 -8.91 L2.06 -5.48 L2.74 -3.43 L3.43 -2.06 L4.79 -0.69 L6.17 0 L8.91 0 L10.28 -0.69 L11.64 -2.06 L12.33 -3.43 M20.55 -14.39 L15.07 0 M20.55 -14.39 L26.03 0 M17.13 -4.79 L23.98 -4.79" stroke-width="2.4"/>
<path transform="translate(176 272) translate(0 0)" d="M5.48 -14.39 L5.48 0 M0.69 -14.39 L10.28 -14.39 M21.23 -9.59 L21.23 0 M21.23 -7.54 L19.87 -8.91 L18.5 -9.59 L16.44 -9.59 L15.07 -8.91 L13.7 -7.54 L13.02 -5.48 L13.02 -4.11 L13.7 -2.06 L15.07 -0.69 L16.44 0 L18.5 0 L19.87 -0.69 L21.23 -2.06 M26.72 -9.59 L26.72 4.79 M26.72 -7.54 L28.09 -8.91 L29.46 -9.59 L31.51 -9.59 L32.88 -8.91 L34.25 -7.54 L34.94 -5.48 L34.94 -4.11 L34.25 -2.06 L32.88 -0.69 L31.51 0 L29.46 0 L28.09 -0.69 L26.72 -2.06 M39.05 -5.48 L47.27 -5.48 L47.27 -6.85 L46.58 -8.22 L45.9 -8.91 L44.52 -9.59 L42.47 -9.59 L41.1 -8.91 L39.73 -7.54 L39.05 -5.48 L39.05 -4.11 L39.73 -2.06 L41.1 -0.69 L42.47 0 L44.52 0 L45.9 -0.69 L47.27 -2.06 M52.06 -9.59 L52.06 0 M52.06 -5.48 L52.75 -7.54 L54.12 -8.91 L55.49 -9.59 L57.54 -9.59 M60.28 -5.48 L68.5 -5.48 L68.5 -6.85 L67.82 -8.22 L67.13 -8.91 L65.76 -9.59 L63.71 -9.59 L62.34 -8.91 L60.97 -7.54 L60.28 -5.48 L60.28 -4.11 L60.97 -2.06 L62.34 -0.69 L63.71 0 L65.76 0 L67.13 -0.69 L68.5 -2.06 M80.83 -14.39 L80.83 0 M80.83 -7.54 L79.46 -8.91 L78.09 -9.59 L76.04 -9.59 L74.67 -8.91 L73.3 -7.54 L72.61 -5.48 L72.61 -4.11 L73.3 -2.06 L74.67 -0.69 L76.04 0 L78.09 0 L79.46 -0.69 L80.83 -2.06 M87.68 -0.69 L87 0 L86.31 -0.69 L87 -1.37 L87.68 -0.69 L87.68 0.69 L87 2.06 L86.31 2.74" stroke-width="2.4"/>
<path transform="translate(175.8 294.2) translate(0 0)" d="M6.17 -14.39 L0.69 0 M6.17 -14.39 L11.65 0 M2.74 -4.79 L9.59 -4.79 M22.61 -7.54 L21.24 -8.91 L19.87 -9.59 L17.81 -9.59 L16.44 -8.91 L15.07 -7.54 L14.39 -5.48 L14.39 -4.11 L15.07 -2.06 L16.44 -0.69 L17.81 0 L19.87 0 L21.24 -0.69 L22.61 -2.06 M34.94 -7.54 L33.57 -8.91 L32.2 -9.59 L30.14 -9.59 L28.77 -8.91 L27.4 -7.54 L26.72 -5.48 L26.72 -4.11 L27.4 -2.06 L28.77 -0.69 L30.14 0 L32.2 0 L33.57 -0.69 L34.94 -2.06 M39.05 -5.48 L47.27 -5.48 L47.27 -6.85 L46.58 -8.22 L45.9 -8.91 L44.53 -9.59 L42.47 -9.59 L41.1 -8.91 L39.73 -7.54 L39.05 -5.48 L39.05 -4.11 L39.73 -2.06 L41.1 -0.69 L42.47 0 L44.53 0 L45.9 -0.69 L47.27 -2.06 M52.06 -14.39 L52.06 0 M56.86 -5.48 L65.08 -5.48 L65.08 -6.85 L64.39 -8.22 L63.71 -8.91 L62.34 -9.59 L60.28 -9.59 L58.91 -8.91 L57.54 -7.54 L56.86 -5.48 L56.86 -4.11 L57.54 -2.06 L58.91 -0.69 L60.28 0 L62.34 0 L63.71 -0.69 L65.08 -2.06 M69.87 -9.59 L69.87 0 M69.87 -5.48 L70.56 -7.54 L71.93 -8.91 L73.3 -9.59 L75.35 -9.59 M86.31 -9.59 L86.31 0 M86.31 -7.54 L84.94 -8.91 L83.57 -9.59 L81.52 -9.59 L80.15 -8.91 L78.78 -7.54 L78.09 -5.48 L78.09 -4.11 L78.78 -2.06 L80.15 -0.69 L81.52 0 L83.57 0 L84.94 -0.69 L86.31 -2.06 M92.48 -14.39 L92.48 -2.74 L93.16 -0.69 L94.53 0 L95.9 0 M90.42 -9.59 L95.22 -9.59 M99.33 -14.39 L100.01 -13.7 L100.7 -14.39 L100.01 -15.07 L99.33 -14.39 M100.01 -9.59 L100.01 0 M105.49 -9.59 L105.49 0 M105.49 -6.85 L107.55 -8.91 L108.92 -9.59 L110.97 -9.59 L112.34 -8.91 L113.03 -6.85 L113.03 0 M126.04 -9.59 L126.04 1.37 L125.36 3.43 L124.67 4.11 L123.3 4.79 L121.25 4.79 L119.88 4.11 M126.04 -7.54 L124.67 -8.91 L123.3 -9.59 L121.25 -9.59 L119.88 -8.91 L118.51 -7.54 L117.82 -5.48 L117.82 -4.11 L118.51 -2.06 L119.88 -0.69 L121.25 0 L123.3 0 L124.67 -0.69 L126.04 -2.06" stroke-width="2.4"/>
<path transform="translate(212.26 531.4) translate(-20.7 0)" d="M7.45 -17.39 L4.97 -16.56 L3.31 -14.08 L2.48 -9.94 L2.48 -7.45 L3.31 -3.31 L4.97 -0.83 L7.45 0 L9.11 0 L11.59 -0.83 L13.25 -3.31 L14.08 -7.45 L14.08 -9.94 L13.25 -14.08 L11.59 -16.56 L9.11 -17.39 L7.45 -17.39 M20.7 -1.66 L19.87 -0.83 L20.7 0 L21.53 -0.83 L20.7 -1.66 M29.81 -14.08 L31.46 -14.9 L33.95 -17.39 L33.95 0" stroke-width="2.4"/>
<path transform="translate(402.47 531.4) translate(-20.7 0)" d="M4.97 -14.08 L6.62 -14.9 L9.11 -17.39 L9.11 0 M20.7 -1.66 L19.87 -0.83 L20.7 0 L21.53 -0.83 L20.7 -1.66 M32.29 -17.39 L29.81 -16.56 L28.15 -14.08 L27.32 -9.94 L27.32 -7.45 L28.15 -3.31 L29.81 -0.83 L32.29 0 L33.95 0 L36.43 -0.83 L38.09 -3.31 L38.92 -7.45 L38.92 -9.94 L38.09 -14.08 L36.43 -16.56 L33.95 -17.39 L32.29 -17.39" stroke-width="2.4"/>
<path transform="translate(592.69 531.4) translate(-28.98 0)" d="M4.97 -14.08 L6.62 -14.9 L9.11 -17.39 L9.11 0 M24.01 -17.39 L21.53 -16.56 L19.87 -14.08 L19.04 -9.94 L19.04 -7.45 L19.87 -3.31 L21.53 -0.83 L24.01 0 L25.67 0 L28.15 -0.83 L29.81 -3.31 L30.64 -7.45 L30.64 -9.94 L29.81 -14.08 L28.15 -16.56 L25.67 -17.39 L24.01 -17.39 M37.26 -1.66 L36.43 -0.83 L37.26 0 L38.09 -0.83 L37.26 -1.66 M48.85 -17.39 L46.37 -16.56 L44.71 -14.08 L43.88 -9.94 L43.88 -7.45 L44.71 -3.31 L46.37 -0.83 L48.85 0 L50.51 0 L52.99 -0.83 L54.65 -3.31 L55.48 -7.45 L55.48 -9.94 L54.65 -14.08 L52.99 -16.56 L50.51 -17.39 L48.85 -17.39" stroke-width="2.4"/>
<path transform="translate(782.9 531.4) translate(-37.26 0)" d="M4.97 -14.08 L6.62 -14.9 L9.11 -17.39 L9.11 0 M24.01 -17.39 L21.53 -16.56 L19.87 -14.08 L19.04 -9.94 L19.04 -7.45 L19.87 -3.31 L21.53 -0.83 L24.01 0 L25.67 0 L28.15 -0.83 L29.81 -3.31 L30.64 -7.45 L30.64 -9.94 L29.81 -14.08 L28.15 -16.56 L25.67 -17.39 L24.01 -17.39 M40.57 -17.39 L38.09 -16.56 L36.43 -14.08 L35.6 -9.94 L35.6 -7.45 L36.43 -3.31 L38.09 -0.83 L40.57 0 L42.23 0 L44.71 -0.83 L46.37 -3.31 L47.2 -7.45 L47.2 -9.94 L46.37 -14.08 L44.71 -16.56 L42.23 -17.39 L40.57 -17.39 M53.82 -1.66 L52.99 -0.83 L53.82 0 L54.65 -0.83 L53.82 -1.66 M65.41 -17.39 L62.93 -16.56 L61.27 -14.08 L60.44 -9.94 L60.44 -7.45 L61.27 -3.31 L62.93 -0.83 L65.41 0 L67.07 0 L69.55 -0.83 L71.21 -3.31 L72.04 -7.45 L72.04 -9.94 L71.21 -14.08 L69.55 -16.56 L67.07 -17.39 L65.41 -17.39" stroke-width="2.4"/>
<path transform="translate(468.95 563.5) translate(-7.04 0)" d="M3.31 -17.39 L3.31 0 M3.31 0 L13.25 0" stroke-width="2.4"/>
<path transform="translate(147.1 494.5) translate(-41.4 0)" d="M7.45 -17.39 L4.97 -16.56 L3.31 -14.08 L2.48 -9.94 L2.48 -7.45 L3.31 -3.31 L4.97 -0.83 L7.45 0 L9.11 0 L11.59 -0.83 L13.25 -3.31 L14.08 -7.45 L14.08 -9.94 L13.25 -14.08 L11.59 -16.56 L9.11 -17.39 L7.45 -17.39 M20.7 -1.66 L19.87 -0.83 L20.7 0 L21.53 -0.83 L20.7 -1.66 M32.29 -17.39 L29.81 -16.56 L28.15 -14.08 L27.32 -9.94 L27.32 -7.45 L28.15 -3.31 L29.81 -0.83 L32.29 0 L33.95 0 L36.43 -0.83 L38.09 -3.31 L38.92 -7.45 L38.92 -9.94 L38.09 -14.08 L36.43 -16.56 L33.95 -17.39 L32.29 -17.39" stroke-width="2.4"/>
<path transform="translate(147.1 355.9) translate(-41.4 0)" d="M7.45 -17.39 L4.97 -16.56 L3.31 -14.08 L2.48 -9.94 L2.48 -7.45 L3.31 -3.31 L4.97 -0.83 L7.45 0 L9.11 0 L11.59 -0.83 L13.25 -3.31 L14.08 -7.45 L14.08 -9.94 L13.25 -14.08 L11.59 -16.56 L9.11 -17.39 L7.45 -17.39 M20.7 -1.66 L19.87 -0.83 L20.7 0 L21.53 -0.83 L20.7 -1.66 M28.15 -13.25 L28.15 -14.08 L28.98 -15.73 L29.81 -16.56 L31.46 -17.39 L34.78 -17.39 L36.43 -16.56 L37.26 -15.73 L38.09 -14.08 L38.09 -12.42 L37.26 -10.76 L35.6 -8.28 L27.32 0 L38.92 0" stroke-width="2.4"/>
<path transform="translate(147.1 207.6) translate(-41.4 0)" d="M7.45 -17.39 L4.97 -16.56 L3.31 -14.08 L2.48 -9.94 L2.48 -7.45 L3.31 -3.31 L4.97 -0.83 L7.45 0 L9.11 0 L11.59 -0.83 L13.25 -3.31 L14.08 -7.45 L14.08 -9.94 L13.25 -14.08 L11.59 -16.56 L9.11 -17.39 L7.45 -17.39 M20.7 -1.66 L19.87 -0.83 L20.7 0 L21.53 -0.83 L20.7 -1.66 M35.6 -17.39 L27.32 -5.8 L39.74 -5.8 M35.6 -17.39 L35.6 0" stroke-width="2.4"/>
<path transform="translate(147.1 66.6) translate(-41.4 0)" d="M7.45 -17.39 L4.97 -16.56 L3.31 -14.08 L2.48 -9.94 L2.48 -7.45 L3.31 -3.31 L4.97 -0.83 L7.45 0 L9.11 0 L11.59 -0.83 L13.25 -3.31 L14.08 -7.45 L14.08 -9.94 L13.25 -14.08 L11.59 -16.56 L9.11 -17.39 L7.45 -17.39 M20.7 -1.66 L19.87 -0.83 L20.7 0 L21.53 -0.83 L20.7 -1.66 M38.09 -14.9 L37.26 -16.56 L34.78 -17.39 L33.12 -17.39 L30.64 -16.56 L28.98 -14.08 L28.15 -9.94 L28.15 -5.8 L28.98 -2.48 L30.64 -0.83 L33.12 0 L33.95 0 L36.43 -0.83 L38.09 -2.48 L38.92 -4.97 L38.92 -5.8 L38.09 -8.28 L36.43 -9.94 L33.95 -10.76 L33.12 -10.76 L30.64 -9.94 L28.98 -8.28 L28.15 -5.8" stroke-width="2.4"/>
<path transform="translate(84 305.6) rotate(-90) translate(0 0)" d="M9.11 -17.39 L9.11 0 M9.94 -17.39 L9.94 0 M1.66 -11.59 L2.48 -12.42 L4.14 -11.59 L4.97 -8.28 L5.8 -6.62 L6.62 -5.8 L8.28 -4.97 M2.48 -12.42 L3.31 -11.59 L4.14 -8.28 L4.97 -6.62 L5.8 -5.8 L8.28 -4.97 L10.76 -4.97 L13.25 -5.8 L14.08 -6.62 L14.9 -8.28 L15.73 -11.59 L16.56 -12.42 M10.76 -4.97 L12.42 -5.8 L13.25 -6.62 L14.08 -8.28 L14.9 -11.59 L16.56 -12.42 L17.39 -11.59 M6.62 -17.39 L12.42 -17.39 M6.62 0 L12.42 0 M21.1 -0.89 L21.1 9.89 M21.1 0.65 L22.12 -0.37 L23.15 -0.89 L24.69 -0.89 L25.72 -0.37 L26.74 0.65 L27.26 2.19 L27.26 3.22 L26.74 4.76 L25.72 5.79 L24.69 6.3 L23.15 6.3 L22.12 5.79 L21.1 4.76 M37.91 -20.7 L36.25 -19.04 L34.59 -16.56 L32.94 -13.25 L32.11 -9.11 L32.11 -5.8 L32.94 -1.66 L34.59 1.66 L36.25 4.14 L37.91 5.8 M43.7 -17.39 L43.7 0 M43.7 0 L53.64 0 M56.95 -20.7 L58.61 -19.04 L60.26 -16.56 L61.92 -13.25 L62.75 -9.11 L62.75 -5.8 L61.92 -1.66 L60.26 1.66 L58.61 4.14 L56.95 5.8" stroke-width="2.4"/>
</g>
</svg>
</body></html>
